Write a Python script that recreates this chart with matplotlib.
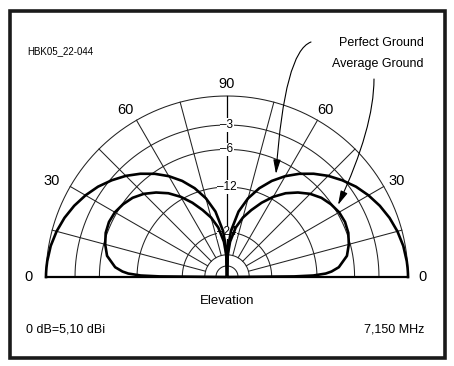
import numpy as np
import matplotlib.pyplot as plt
from matplotlib.patches import Rectangle, FancyArrowPatch

plt.rcParams['font.family'] = ['Liberation Sans', 'DejaVu Sans']

# elevation angles (deg) and relative gain (dB)
elev = [0, 0.5, 1, 2, 3, 5, 10, 15, 20, 25, 30, 35, 40, 45, 50, 55, 60, 65, 70, 75, 80, 85, 88, 90]
perfect_db = [0, 0, 0, -0.01, -0.02, -0.05, -0.19, -0.44, -0.78, -1.22, -1.76, -2.39, -3.17, -4.04,
              -5.06, -6.22, -7.57, -9.18, -11.16, -13.7, -17.2, -23.3, -31, -80]
average_db = [-80, -17, -12.7, -10.4, -9.4, -8.2, -6.8, -6.2, -5.8, -5.65, -5.75, -6.1, -6.6, -7.4,
              -8.5, -9.8, -11.5, -13.6, -16.0, -18.5, -22.0, -28, -36, -80]

ring_db = [0, -3, -6, -12, -24, -36, -48]
ring_labels = ['–3', '–6', '–12', '–24']
label_db = [-3, -6, -12, -24]
spoke_deg = [15, 30, 45, 60, 75]


def arrl(db):
    # ARRL log-periodic scale: radius x0.89 every 2 dB
    return 0.89 ** (-np.asarray(db, dtype=float) / 2)


def xy(deg, r):
    t = np.radians(deg)
    return r * np.cos(t), r * np.sin(t)


W, H = 454, 366
fx = lambda x: x / W
fy = lambda y: 1 - y / H

fig = plt.figure(figsize=(W / 100, H / 100), dpi=100)
fig.patch.set_facecolor('white')

cx, cy, R = 227, 277, 181
ax = fig.add_axes([fx(cx - R), fy(cy), 2 * R / W, R / H])
ax.set_xlim(-1, 1)
ax.set_ylim(0, 1)
ax.set_axis_off()

th = np.linspace(0, 180, 361)
grid_kw = dict(color='#222222', lw=0.75, clip_on=False, zorder=1)
for db in ring_db:
    ax.plot(*xy(th, arrl(db)), **grid_kw)
for a in spoke_deg:
    for d in (a, 180 - a):
        ax.plot(*xy(np.array([d, d]), np.array([arrl(-36), 1.0])), **grid_kw)
ax.plot(*xy(np.array([90, 90]), np.array([0, 1.0])), color='black', lw=0.9, clip_on=False, zorder=1)
ax.plot([-1, 1], [0, 0], color='black', lw=1.6, clip_on=False, zorder=2)

for lab, db in zip(ring_labels, label_db):
    ax.text(0, arrl(db), lab, ha='center', va='center', fontsize=8.5, zorder=3,
            bbox=dict(facecolor='white', edgecolor='none', pad=0.4))

el = np.asarray(elev, dtype=float)
for vals in (perfect_db, average_db):
    r = arrl(vals)
    ax.plot(*xy(el, r), color='black', lw=1.9, clip_on=False, zorder=4, solid_joinstyle='round')
    ax.plot(*xy(180 - el, r), color='black', lw=1.9, clip_on=False, zorder=4, solid_joinstyle='round')

# angle labels
for txt, ang, rr in [('90', 90, 1.065), ('60', 121.4, 1.08), ('60', 59.3, 1.07),
                     ('30', 151.4, 1.105), ('30', 29.5, 1.078), ('0', 180, 1.094), ('0', 0, 1.078)]:
    ax.text(*xy(ang, rr), txt, ha='center', va='center', fontsize=10.5)

# page texts
fig.text(fx(27), fy(51), 'HBK05_22-044', fontsize=7, ha='left', va='center')
fig.text(fx(424), fy(43), 'Perfect Ground', fontsize=9, ha='right', va='center')
fig.text(fx(424), fy(64), 'Average Ground', fontsize=9, ha='right', va='center')
fig.text(fx(227), fy(301), 'Elevation', fontsize=9.5, ha='center', va='center')
fig.text(fx(26), fy(329), '0 dB=5,10 dBi', fontsize=9, ha='left', va='center')
fig.text(fx(424), fy(329), '7,150 MHz', fontsize=9, ha='right', va='center')

# pointer arrows
for a, b, cs in [((311, 42), (276, 174), 'angle3,angleA=20,angleB=86'),
                 ((374, 79), (338, 205), 'angle3,angleA=90,angleB=65')]:
    arr = FancyArrowPatch((fx(a[0]), fy(a[1])), (fx(b[0]), fy(b[1])), transform=fig.transFigure,
                          connectionstyle=cs, arrowstyle='-|>,head_length=0.85,head_width=0.22',
                          mutation_scale=10, lw=0.8, color='black', shrinkA=0, shrinkB=0, zorder=5)
    fig.add_artist(arr)

# frame
fig.add_artist(Rectangle((fx(10), fy(357.5)), (445 - 10) / W, (357.5 - 10.8) / H,
                         transform=fig.transFigure, fill=False, edgecolor='#1a1a1a', lw=2.6))

fig.savefig('out.png', dpi=100, facecolor='white')
